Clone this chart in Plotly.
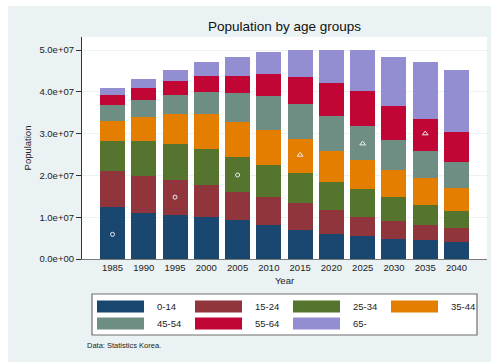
import plotly.graph_objects as go

years = [1985, 1990, 1995, 2000, 2005, 2010, 2015, 2020, 2025, 2030, 2035, 2040]
age_0_14 = [12.4, 11.1, 10.5, 10.0, 9.3, 8.1, 6.9, 6.1, 5.4, 4.9, 4.5, 4.0]
age_15_24 = [8.7, 8.7, 8.5, 7.6, 6.8, 6.7, 6.5, 5.6, 4.6, 4.3, 3.7, 3.3]
age_25_34 = [7.1, 8.4, 8.5, 8.6, 8.2, 7.6, 7.2, 6.7, 6.8, 5.6, 4.7, 4.3]
age_35_44 = [4.9, 5.7, 7.2, 8.4, 8.5, 8.5, 8.0, 7.5, 6.8, 6.6, 6.4, 5.3]
age_45_54 = [3.7, 4.1, 4.5, 5.4, 6.8, 8.2, 8.4, 8.3, 8.3, 7.1, 6.5, 6.4]
age_55_64 = [2.4, 2.8, 3.4, 3.8, 4.3, 5.1, 6.6, 8.0, 8.3, 8.2, 7.8, 7.2]
age_65 = [1.8, 2.3, 2.7, 3.4, 4.4, 5.4, 6.5, 7.8, 9.8, 11.7, 13.5, 14.8]  # millions

group_names = ["0-14", "15-24", "25-34", "35-44", "45-54", "55-64", "65-"]
group_values = [age_0_14, age_15_24, age_25_34, age_35_44, age_45_54, age_55_64, age_65]
group_colors = ["#1a476f", "#90353b", "#55752f", "#e37e00", "#6e8e84", "#c10534", "#938dd2"]

circle_years = [1985, 1995, 2005]
circle_values = [5.9, 14.8, 20.1]  # millions
triangle_years = [2015, 2025, 2035]
triangle_values = [24.9, 27.6, 30.0]  # millions

ytick_vals = [0, 1e7, 2e7, 3e7, 4e7, 5e7]
ytick_text = [f"{v:.1e}" for v in ytick_vals]

W, H = 491, 362
L, R, T, B = 82, 487, 37, 259
FONT = "Liberation Sans, Arial, sans-serif"
BG = "#eaf2f3"


def px2x(px):
    return (px - L) / (R - L)


def py2y(py):
    return (B - py) / (B - T)


fig = go.Figure()
for name, vals, col in zip(group_names, group_values, group_colors):
    fig.add_trace(go.Bar(
        x=years, y=[v * 1e6 for v in vals], name=name,
        marker=dict(color=col, line=dict(width=0)),
        showlegend=False,
    ))

fig.add_trace(go.Scatter(
    x=circle_years, y=[v * 1e6 for v in circle_values], mode="markers",
    marker=dict(symbol="circle-open", size=4, color="#eeeeee", line=dict(width=1)),
    showlegend=False,
))
fig.add_trace(go.Scatter(
    x=triangle_years, y=[v * 1e6 for v in triangle_values], mode="markers",
    marker=dict(symbol="triangle-up-open", size=5, color="#eeeeee", line=dict(width=1)),
    showlegend=False,
))

shapes = []
annotations = []
# white outer border strips (left, top)
shapes.append(dict(type="rect", xref="paper", yref="paper", x0=px2x(-2), x1=px2x(8),
                   y0=py2y(W), y1=py2y(-2), fillcolor="white", line=dict(width=0), layer="below"))
shapes.append(dict(type="rect", xref="paper", yref="paper", x0=px2x(-2), x1=px2x(W + 2),
                   y0=py2y(6), y1=py2y(-2), fillcolor="white", line=dict(width=0), layer="below"))

# legend box
shapes.append(dict(type="rect", xref="paper", yref="paper", x0=px2x(92), x1=px2x(477),
                   y0=py2y(335), y1=py2y(294), fillcolor="white",
                   line=dict(color="#6f6f6f", width=1.2), layer="above"))
col_x = [97, 195, 293, 391]
row_y = [300.5, 317.5]
for i, (name, col) in enumerate(zip(group_names, group_colors)):
    cx = col_x[i % 4]
    ry = row_y[i // 4]
    shapes.append(dict(type="rect", xref="paper", yref="paper", x0=px2x(cx), x1=px2x(cx + 47),
                       y0=py2y(ry + 12), y1=py2y(ry), fillcolor=col,
                       line=dict(width=0), layer="above"))
    annotations.append(dict(x=px2x(cx + 58), y=py2y(ry + 6), xref="paper", yref="paper",
                            text=name, showarrow=False, xanchor="left", yanchor="middle",
                            font=dict(family=FONT, size=9.5, color="#222")))

annotations.append(dict(x=px2x(85), y=py2y(345), xref="paper", yref="paper",
                        text="Data: Statistics Korea.", showarrow=False,
                        xanchor="left", yanchor="middle",
                        font=dict(family=FONT, size=7.5, color="#222")))

fig.update_layout(
    width=W, height=H,
    margin=dict(l=L, r=W - R, t=T, b=H - B, pad=0),
    paper_bgcolor=BG, plot_bgcolor="white",
    barmode="stack", bargap=0.2,
    title=dict(text="Population by age groups", x=(L + R) / 2 / W, xanchor="center",
               y=1 - 26 / H, yanchor="middle",
               font=dict(family=FONT, size=13.5, color="#111")),
    font=dict(family=FONT, color="#222"),
    shapes=shapes, annotations=annotations,
    showlegend=False,
)
fig.update_xaxes(
    range=[1980.12, 2044.88], tickvals=years, ticktext=[str(y) for y in years],
    showgrid=False, zeroline=False, ticks="", showline=True, linecolor="#7a7a7a", linewidth=1,
    tickfont=dict(family=FONT, size=9.5, color="#222"),
    title=dict(text="Year", font=dict(family=FONT, size=9.5, color="#222"), standoff=4),
)
fig.update_yaxes(
    range=[0, 5.311e7], tickvals=ytick_vals, ticktext=ytick_text,
    showgrid=True, gridcolor=BG, gridwidth=1, zeroline=False,
    ticks="outside", ticklen=5, tickcolor="#333", tickwidth=1,
    showline=True, linecolor="#333", linewidth=1.2,
    tickfont=dict(family=FONT, size=9.5, color="#222"),
    title=dict(text="Population", font=dict(family=FONT, size=9.5, color="#222"), standoff=6),
)

fig.write_html("out.html")
